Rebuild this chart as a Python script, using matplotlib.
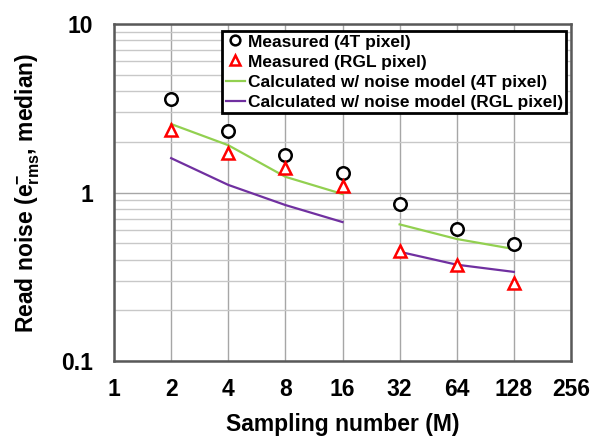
import numpy as np
import matplotlib.pyplot as plt
from matplotlib.ticker import FixedLocator, NullFormatter, NullLocator

plt.rcParams["font.family"] = ["Liberation Sans", "DejaVu Sans"]
plt.rcParams["font.weight"] = "bold"
plt.rcParams["mathtext.fontset"] = "custom"
plt.rcParams["mathtext.rm"] = "Liberation Sans:bold"
plt.rcParams["mathtext.it"] = "Liberation Sans:bold"
plt.rcParams["mathtext.bf"] = "Liberation Sans:bold"

# sampling numbers
m_low = [2, 4, 8, 16]
m_high = [32, 64, 128]
m_all = m_low + m_high

# measured read noise
meas_4t = [3.59, 2.32, 1.67, 1.31, 0.85, 0.605, 0.493]
meas_rgl = [2.35, 1.71, 1.39, 1.09, 0.452, 0.371, 0.292]

# noise model curves
calc_4t_low = [2.55, 1.91, 1.24, 0.98]
calc_4t_high = [0.647, 0.53, 0.462]
calc_rgl_low = [1.60, 1.11, 0.843, 0.668]
calc_rgl_high = [0.445, 0.373, 0.338]

x_ticks = [1, 2, 4, 8, 16, 32, 64, 128, 256]
y_ticks = [0.1, 1, 10]

green = "#92D050"
purple = "#7030A0"

fig = plt.figure(figsize=(5.92, 4.38), dpi=100)
ax = fig.add_axes([0.1926, 0.1758, 0.7719, 0.7692])

ax.set_xscale("log", base=2)
ax.set_yscale("log")
ax.set_xlim(1, 256)
ax.set_ylim(0.1, 10)

ax.plot(m_low, calc_4t_low, color=green, lw=1.6, zorder=3)
ax.plot(m_high, calc_4t_high, color=green, lw=1.6, zorder=3)
ax.plot(m_low, calc_rgl_low, color=purple, lw=1.6, zorder=3)
ax.plot(m_high, calc_rgl_high, color=purple, lw=1.6, zorder=3)

ax.plot(m_all, meas_4t, "o", ms=9, mfc="white", mec="black", mew=1.8, zorder=4)
ax.plot(m_all, meas_rgl, "^", ms=9, mfc="white", mec="#FF0000", mew=1.8, zorder=4)

# legend handles
h1, = ax.plot([], [], "o", ms=7, mfc="white", mec="black", mew=1.8)
h2, = ax.plot([], [], "^", ms=7, mfc="white", mec="#FF0000", mew=1.8)
h3, = ax.plot([], [], color=green, lw=1.6)
h4, = ax.plot([], [], color=purple, lw=1.6)
leg = ax.legend([h1, h2, h3, h4],
                ["Measured (4T pixel)", "Measured (RGL pixel)",
                 "Calculated w/ noise model (4T pixel)",
                 "Calculated w/ noise model (RGL pixel)"],
                loc="upper right", bbox_to_anchor=(0.997, 0.99),
                fancybox=False, framealpha=1, edgecolor="black",
                prop={"weight": "bold", "size": 12.5},
                handlelength=1.1, handletextpad=0.15, borderpad=0.2,
                labelspacing=0.28, borderaxespad=0.2)
leg.get_frame().set_linewidth(2)
leg.set_zorder(5)

# ticks and grid
ax.xaxis.set_major_locator(FixedLocator(x_ticks))
ax.set_xticklabels([str(v) for v in x_ticks])
ax.xaxis.set_minor_locator(NullLocator())
ax.yaxis.set_major_locator(FixedLocator(y_ticks))
ax.set_yticklabels(["0.1", "1", "10"])
minor_y = [k * 10.0 ** e for e in (-1, 0) for k in range(2, 10)]
ax.yaxis.set_minor_locator(FixedLocator(minor_y))
ax.yaxis.set_minor_formatter(NullFormatter())
ax.tick_params(which="both", length=0)
ax.tick_params(axis="x", pad=12, labelsize=16.5)
ax.tick_params(axis="y", pad=15, labelsize=16.5)
for lab in ax.get_xticklabels() + ax.get_yticklabels():
    lab.set_fontweight("bold")

ax.grid(which="major", color="#A6A6A6", lw=1)
ax.grid(which="minor", axis="y", color="#C8C8C8", lw=1)
ax.set_axisbelow(True)

for s in ax.spines.values():
    s.set_color("#595959")
    s.set_linewidth(1.8)

ax.set_xlabel("Sampling number (M)", fontsize=16.5, fontweight="bold", labelpad=9)
ax.set_ylabel(r"Read noise (e$^{-}_{\mathrm{rms}}$, median)", fontsize=16.5,
              fontweight="bold", labelpad=14)

fig.savefig("out.png", dpi=100)
